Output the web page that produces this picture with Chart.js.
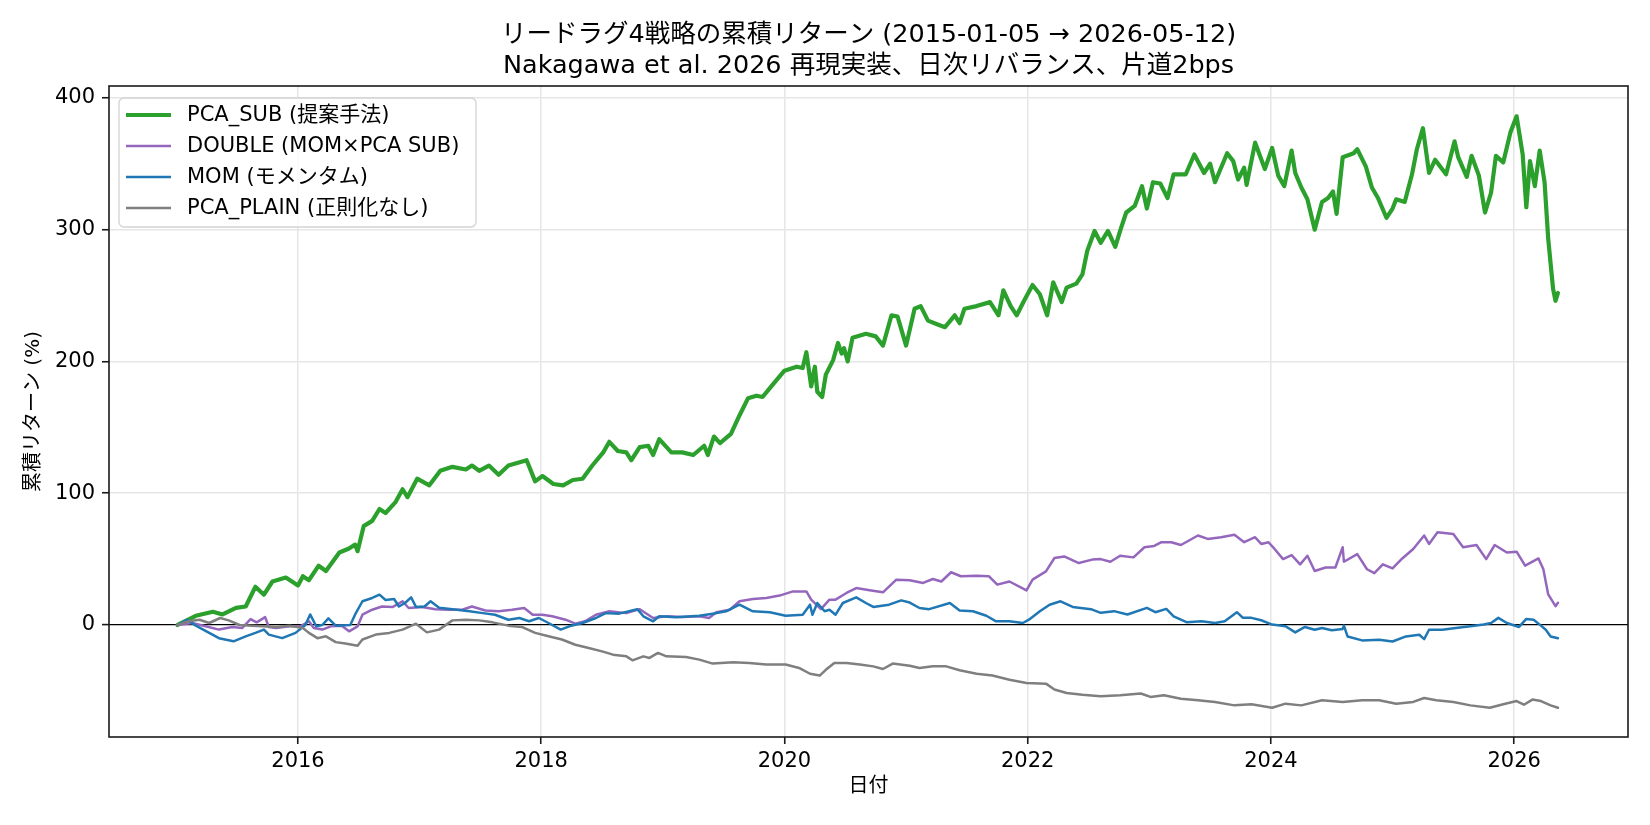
<!DOCTYPE html>
<html>
<head>
<meta charset="utf-8">
<script src="https://cdn.jsdelivr.net/npm/chart.js@4.4.1/dist/chart.umd.min.js"></script>
<style>
  html, body { margin: 0; padding: 0; background: #fff; }
  #wrap { width: 1650px; height: 825px; }
</style>
</head>
<body>
<div id="wrap"><canvas id="chart" width="1650" height="825"></canvas></div>
<script>
// series (x = decimal year, y = cumulative return %)
const subYears = [2015.01,2015.16,2015.30,2015.38,2015.49,2015.57,2015.65,2015.72,2015.79,2015.90,2016.00,2016.04,2016.09,2016.17,2016.23,2016.34,2016.42,2016.47,2016.49,2016.54,2016.61,2016.67,2016.72,2016.80,2016.86,2016.90,2016.98,2017.08,2017.17,2017.27,2017.38,2017.43,2017.49,2017.57,2017.65,2017.73,2017.88,2017.95,2018.01,2018.10,2018.18,2018.26,2018.34,2018.42,2018.51,2018.56,2018.63,2018.70,2018.74,2018.81,2018.88,2018.92,2018.97,2019.07,2019.16,2019.25,2019.34,2019.37,2019.42,2019.47,2019.56,2019.63,2019.70,2019.77,2019.82,2019.90,2020.00,2020.10,2020.15,2020.18,2020.22,2020.25,2020.27,2020.31,2020.34,2020.40,2020.44,2020.47,2020.49,2020.52,2020.56,2020.67,2020.75,2020.81,2020.88,2020.93,2021.00,2021.07,2021.12,2021.18,2021.26,2021.32,2021.40,2021.44,2021.48,2021.58,2021.69,2021.76,2021.80,2021.86,2021.91,2021.97,2022.04,2022.10,2022.16,2022.21,2022.28,2022.32,2022.40,2022.45,2022.49,2022.55,2022.60,2022.66,2022.72,2022.76,2022.81,2022.88,2022.94,2022.98,2023.03,2023.09,2023.15,2023.20,2023.30,2023.37,2023.45,2023.50,2023.54,2023.64,2023.69,2023.73,2023.78,2023.80,2023.87,2023.95,2024.01,2024.06,2024.11,2024.17,2024.20,2024.25,2024.30,2024.36,2024.42,2024.47,2024.51,2024.54,2024.59,2024.68,2024.71,2024.78,2024.83,2024.88,2024.95,2025.00,2025.03,2025.10,2025.16,2025.20,2025.25,2025.30,2025.35,2025.44,2025.51,2025.54,2025.61,2025.65,2025.71,2025.76,2025.81,2025.85,2025.91,2025.97,2026.02,2026.07,2026.10,2026.13,2026.17,2026.21,2026.25,2026.28,2026.32,2026.34,2026.36];
const subVals = [0,7,10,8,13,14,29,23,33,36,30,37,34,45,41,55,58,61,56,75,79,88,85,93,103,97,111,106,117,120,118,121,117,121,114,121,125,109,113,107,106,110,111,121,131,139,132,131,125,135,136,129,141,131,131,129,136,129,143,138,145,159,172,174,173,182,193,196,195,207,181,196,177,173,190,201,214,206,210,200,218,221,219,212,235,234,212,240,242,231,228,226,235,229,240,242,245,235,254,242,235,246,258,251,235,260,245,256,259,266,284,299,290,299,287,299,313,318,333,316,336,335,324,342,342,357,343,350,336,358,352,338,347,334,366,346,362,341,333,360,343,332,323,300,321,324,329,312,355,358,361,348,332,324,309,316,323,321,342,361,377,343,353,342,367,355,340,356,341,313,328,356,351,374,386,357,317,352,333,360,336,293,255,246,252];

const dblYears = [2015.01,2015.13,2015.24,2015.35,2015.46,2015.54,2015.61,2015.66,2015.73,2015.76,2015.82,2015.93,2016.02,2016.09,2016.13,2016.20,2016.27,2016.36,2016.42,2016.49,2016.53,2016.61,2016.69,2016.78,2016.86,2016.91,2017.02,2017.13,2017.24,2017.35,2017.43,2017.54,2017.65,2017.76,2017.86,2017.93,2018.01,2018.09,2018.20,2018.28,2018.36,2018.45,2018.56,2018.70,2018.81,2018.92,2019.03,2019.16,2019.30,2019.38,2019.44,2019.55,2019.63,2019.74,2019.85,2019.96,2020.07,2020.18,2020.22,2020.30,2020.37,2020.42,2020.51,2020.59,2020.70,2020.81,2020.92,2021.03,2021.14,2021.22,2021.29,2021.37,2021.45,2021.58,2021.68,2021.75,2021.85,2021.99,2022.04,2022.15,2022.22,2022.30,2022.42,2022.53,2022.60,2022.68,2022.76,2022.87,2022.96,2023.04,2023.10,2023.18,2023.26,2023.40,2023.48,2023.59,2023.70,2023.78,2023.87,2023.92,2023.98,2024.03,2024.10,2024.17,2024.24,2024.30,2024.36,2024.45,2024.53,2024.59,2024.60,2024.71,2024.79,2024.85,2024.92,2025.00,2025.08,2025.17,2025.26,2025.30,2025.37,2025.50,2025.58,2025.69,2025.77,2025.84,2025.94,2026.02,2026.09,2026.20,2026.24,2026.28,2026.34,2026.36];
const dblVals = [0,1.5,-1,-3.5,-1.5,-2.3,4.5,2,6,-1.5,-2.3,-1,-1,2.8,-2.3,-3.5,-1,-0.5,-4.8,-1,7.8,11.6,14,13.7,18,12.9,13.7,12,11.6,11.6,14,11,10.4,11.6,12.9,7.8,7.8,6.6,4,1,2.8,7.8,10.4,9,12,5.3,6.6,6,6.6,5.3,9.6,11.6,18,19.7,20.5,22.3,25.5,25.5,19.2,12,19.2,19.2,24.3,28,26.3,24.8,34.4,33.9,31.9,34.9,33,40,37,37.4,37,30.6,33,26.3,34.4,40.7,50.8,52,47,49.6,50,48,52.5,51.3,59,60,62.8,62.8,60.7,67.9,65.3,66.6,68.4,62.8,66.6,61.5,62.8,57.7,50,53,46,52.5,41,43.6,43.6,59,48,53.8,42.3,39.3,46,42.9,50.5,57.7,67.9,61.5,70.4,69.1,59,60.7,50,60.7,55,55.6,45,50.5,42.3,23.2,14.3,16.8];

const momYears = [2015.01,2015.09,2015.16,2015.27,2015.35,2015.47,2015.57,2015.65,2015.72,2015.76,2015.87,2015.98,2016.06,2016.10,2016.15,2016.20,2016.25,2016.31,2016.43,2016.47,2016.53,2016.61,2016.67,2016.72,2016.79,2016.83,2016.88,2016.93,2016.97,2017.04,2017.09,2017.16,2017.27,2017.41,2017.52,2017.62,2017.73,2017.82,2017.90,2017.98,2018.06,2018.16,2018.23,2018.34,2018.45,2018.53,2018.64,2018.79,2018.84,2018.92,2018.97,2019.11,2019.30,2019.41,2019.52,2019.63,2019.74,2019.88,2020.01,2020.15,2020.21,2020.23,2020.27,2020.33,2020.37,2020.42,2020.48,2020.59,2020.67,2020.73,2020.86,2020.96,2021.03,2021.11,2021.19,2021.36,2021.44,2021.55,2021.66,2021.74,2021.85,2021.96,2022.01,2022.10,2022.18,2022.27,2022.37,2022.52,2022.60,2022.71,2022.82,2022.98,2023.05,2023.14,2023.20,2023.31,2023.43,2023.54,2023.62,2023.72,2023.77,2023.84,2023.92,2024.01,2024.12,2024.20,2024.28,2024.36,2024.42,2024.50,2024.59,2024.60,2024.63,2024.75,2024.89,2025.00,2025.11,2025.22,2025.26,2025.30,2025.41,2025.52,2025.64,2025.75,2025.81,2025.87,2025.94,2026.04,2026.10,2026.16,2026.22,2026.26,2026.30,2026.36];
const momVals = [0,4,-0.5,-6,-10,-12.4,-8.6,-6,-3.5,-7.3,-10,-6,0,8,-1,0,5,-0.5,0,8,18,20.5,23,19,19.7,14,16.7,21,13.7,14,18,13,12,10.4,9,7.8,4,5.3,2.8,5.3,1.5,-3.5,-1,1.5,5.3,9,8.6,12,6.6,2.8,6.6,5.8,7,8.6,10.4,15.4,10.4,9.6,7,7.8,15.4,7.8,16.7,10.4,11.6,7.8,16.7,21,16.7,13.7,15.4,18.7,17,12.9,12,16.7,11,10.4,7,2.8,2.8,1.5,4,10.4,15.4,18,13.7,12,9.2,10.5,8,13,9.7,12.2,6.6,2,2.8,1.5,2.8,9.7,5.4,5.4,3.6,0.3,-1,-5.6,-1.5,-3.6,-2.3,-4,-3,-0.5,-8.7,-11.7,-11.2,-12.5,-8.7,-7.4,-10.7,-3.6,-3.6,-2.3,-1,0.3,1.5,5.4,1.5,-1.5,4.6,4,-0.5,-3.6,-8.7,-10];

const plainYears = [2015.01,2015.10,2015.19,2015.27,2015.36,2015.43,2015.52,2015.62,2015.71,2015.82,2015.93,2016.04,2016.09,2016.16,2016.23,2016.31,2016.39,2016.49,2016.53,2016.64,2016.75,2016.86,2016.97,2017.06,2017.16,2017.27,2017.38,2017.49,2017.60,2017.73,2017.84,2017.95,2018.06,2018.17,2018.28,2018.39,2018.50,2018.59,2018.70,2018.75,2018.84,2018.89,2018.96,2019.03,2019.19,2019.30,2019.41,2019.58,2019.71,2019.85,2020.01,2020.12,2020.21,2020.29,2020.34,2020.41,2020.51,2020.62,2020.73,2020.81,2020.89,2021.03,2021.11,2021.22,2021.33,2021.44,2021.58,2021.71,2021.85,2021.99,2022.15,2022.22,2022.32,2022.45,2022.60,2022.76,2022.93,2023.01,2023.12,2023.26,2023.40,2023.54,2023.70,2023.84,2024.01,2024.12,2024.25,2024.42,2024.59,2024.75,2024.89,2025.03,2025.17,2025.26,2025.36,2025.50,2025.64,2025.80,2025.91,2026.02,2026.08,2026.15,2026.22,2026.30,2026.36];
const plainVals = [0,2.8,4,1.5,5.3,3.5,0,-0.5,-1,-1.5,-0.5,-2.3,-6,-10,-8.6,-13,-14,-15.7,-11,-7.3,-6,-3.5,1,-5.6,-3.5,3.5,4,3.5,2,-0.5,-1.5,-6,-8.6,-11,-15,-17.5,-20,-22.5,-23.8,-26.8,-23.8,-25,-21.2,-23.8,-24.3,-26.3,-29.3,-28.3,-28.8,-30,-30,-32.6,-37,-38.4,-34,-28.8,-28.8,-30,-31.4,-33.4,-29.3,-30.9,-32.6,-31.4,-31.4,-34.4,-37,-38.4,-41.5,-44,-44.5,-49,-51.6,-52.9,-54,-53.3,-52,-54.6,-53.3,-55.9,-57.1,-58.4,-61,-60.2,-62.8,-59.7,-61,-57.1,-58.4,-57.1,-57.1,-59.7,-58.4,-55.4,-57.1,-58.4,-61,-62.8,-60.2,-57.7,-60.5,-56.6,-57.7,-61,-62.8];

const seriesLabels = ['PCA_SUB (提案手法)', 'DOUBLE (MOM×PCA SUB)', 'MOM (モメンタム)', 'PCA_PLAIN (正則化なし)'];
const titleLines = ['リードラグ4戦略の累積リターン (2015-01-05 → 2026-05-12)', 'Nakagawa et al. 2026 再現実装、日次リバランス、片道2bps'];
const xTicks = [2016, 2018, 2020, 2022, 2024, 2026];
const yTicks = [0, 100, 200, 300, 400];

const FONT = "'DejaVu Sans', 'Noto Sans CJK JP', sans-serif";

function pts(xs, ys) {
    return xs.map((x, i) => ({ x: x, y: ys[i] }));
}

// title centred over the axes (like matplotlib), not over the whole canvas
const axesTitle = {
    id: 'axesTitle',
    afterDraw(chart) {
        const c = chart.ctx;
        const a = chart.chartArea;
        const cx = (a.left + a.right) / 2;
        c.save();
        c.font = '25.5px ' + FONT;
        c.fillStyle = '#000';
        c.textAlign = 'center';
        c.textBaseline = 'middle';
        titleLines.forEach((t, i) => c.fillText(t, cx, 35 + i * 31));
        c.restore();
    }
};

// outer frame (all four spines), drawn over the lines like matplotlib
const framePlugin = {
    id: 'frame',
    afterDatasetsDraw(chart) {
        const a = chart.chartArea;
        const c = chart.ctx;
        c.save();
        c.strokeStyle = '#1a1a1a';
        c.lineWidth = 1.6;
        c.strokeRect(a.left, a.top, a.right - a.left, a.bottom - a.top);
        c.restore();
    }
};

// boxed legend in the upper left corner of the plot
const boxLegend = {
    id: 'boxLegend',
    afterDraw(chart) {
        const c = chart.ctx;
        const a = chart.chartArea;
        const x0 = a.left + 10, y0 = a.top + 12, w = 357, h = 129;
        c.save();
        c.beginPath();
        c.roundRect(x0, y0, w, h, 5);
        c.fillStyle = 'rgba(255,255,255,0.8)';
        c.fill();
        c.strokeStyle = '#d3d3d3';
        c.lineWidth = 1.3;
        c.stroke();
        c.font = '21px ' + FONT;
        c.textBaseline = 'middle';
        chart.data.datasets.forEach((ds, i) => {
            const yy = y0 + 17 + i * 31;
            c.beginPath();
            c.moveTo(x0 + 7, yy);
            c.lineTo(x0 + 52, yy);
            c.strokeStyle = ds.borderColor;
            c.lineWidth = ds.borderWidth;
            c.stroke();
            c.fillStyle = '#000';
            c.fillText(ds.label, x0 + 68, yy + 1);
        });
        c.restore();
    }
};

new Chart(document.getElementById('chart'), {
    type: 'line',
    data: {
        datasets: [
            { label: seriesLabels[0], data: pts(subYears, subVals), borderColor: '#2ca02c', borderWidth: 4.2, order: 4 },
            { label: seriesLabels[1], data: pts(dblYears, dblVals), borderColor: '#9467bd', borderWidth: 2.5, order: 3 },
            { label: seriesLabels[2], data: pts(momYears, momVals), borderColor: '#1f77b4', borderWidth: 2.5, order: 2 },
            { label: seriesLabels[3], data: pts(plainYears, plainVals), borderColor: '#7f7f7f', borderWidth: 2.5, order: 1 }
        ]
    },
    options: {
        responsive: false,
        animation: false,
        devicePixelRatio: 1,
        elements: { point: { radius: 0 }, line: { tension: 0, borderJoinStyle: 'round', borderCapStyle: 'round' } },
        layout: { padding: { left: 0, right: 22, top: 86, bottom: 0 } },
        plugins: {
            legend: { display: false },
            tooltip: { enabled: false },
            title: { display: false }
        },
        scales: {
            x: {
                type: 'linear',
                min: 2014.446,
                max: 2026.936,
                afterBuildTicks: s => { s.ticks = xTicks.map(v => ({ value: v })); },
                afterFit: s => { s.height = 88; },
                ticks: { color: '#000', font: { family: FONT, size: 21 }, padding: 5, maxRotation: 0, callback: v => String(v) },
                grid: { color: '#e6e6e6', lineWidth: 1.5, tickColor: '#1a1a1a', tickLength: 7, tickWidth: 1.6 },
                border: { display: false },
                title: { display: true, text: '日付', color: '#000', font: { family: FONT, size: 20 }, padding: { bottom: 26 } }
            },
            y: {
                type: 'linear',
                min: -85,
                max: 409,
                afterBuildTicks: s => { s.ticks = yTicks.map(v => ({ value: v })); },
                afterFit: s => { s.width = 109; },
                ticks: { color: '#000', font: { family: FONT, size: 21 }, padding: 7 },
                grid: {
                    color: c => c.tick && c.tick.value === 0 ? '#000' : '#e6e6e6',
                    lineWidth: c => c.tick && c.tick.value === 0 ? 1.2 : 1.5,
                    tickColor: '#1a1a1a', tickLength: 7, tickWidth: 1.6
                },
                border: { display: false },
                title: { display: true, text: '累積リターン (%)', color: '#000', font: { family: FONT, size: 20 }, padding: { top: 22 } }
            }
        }
    },
    plugins: [framePlugin, boxLegend, axesTitle]
});
</script>
</body>
</html>
